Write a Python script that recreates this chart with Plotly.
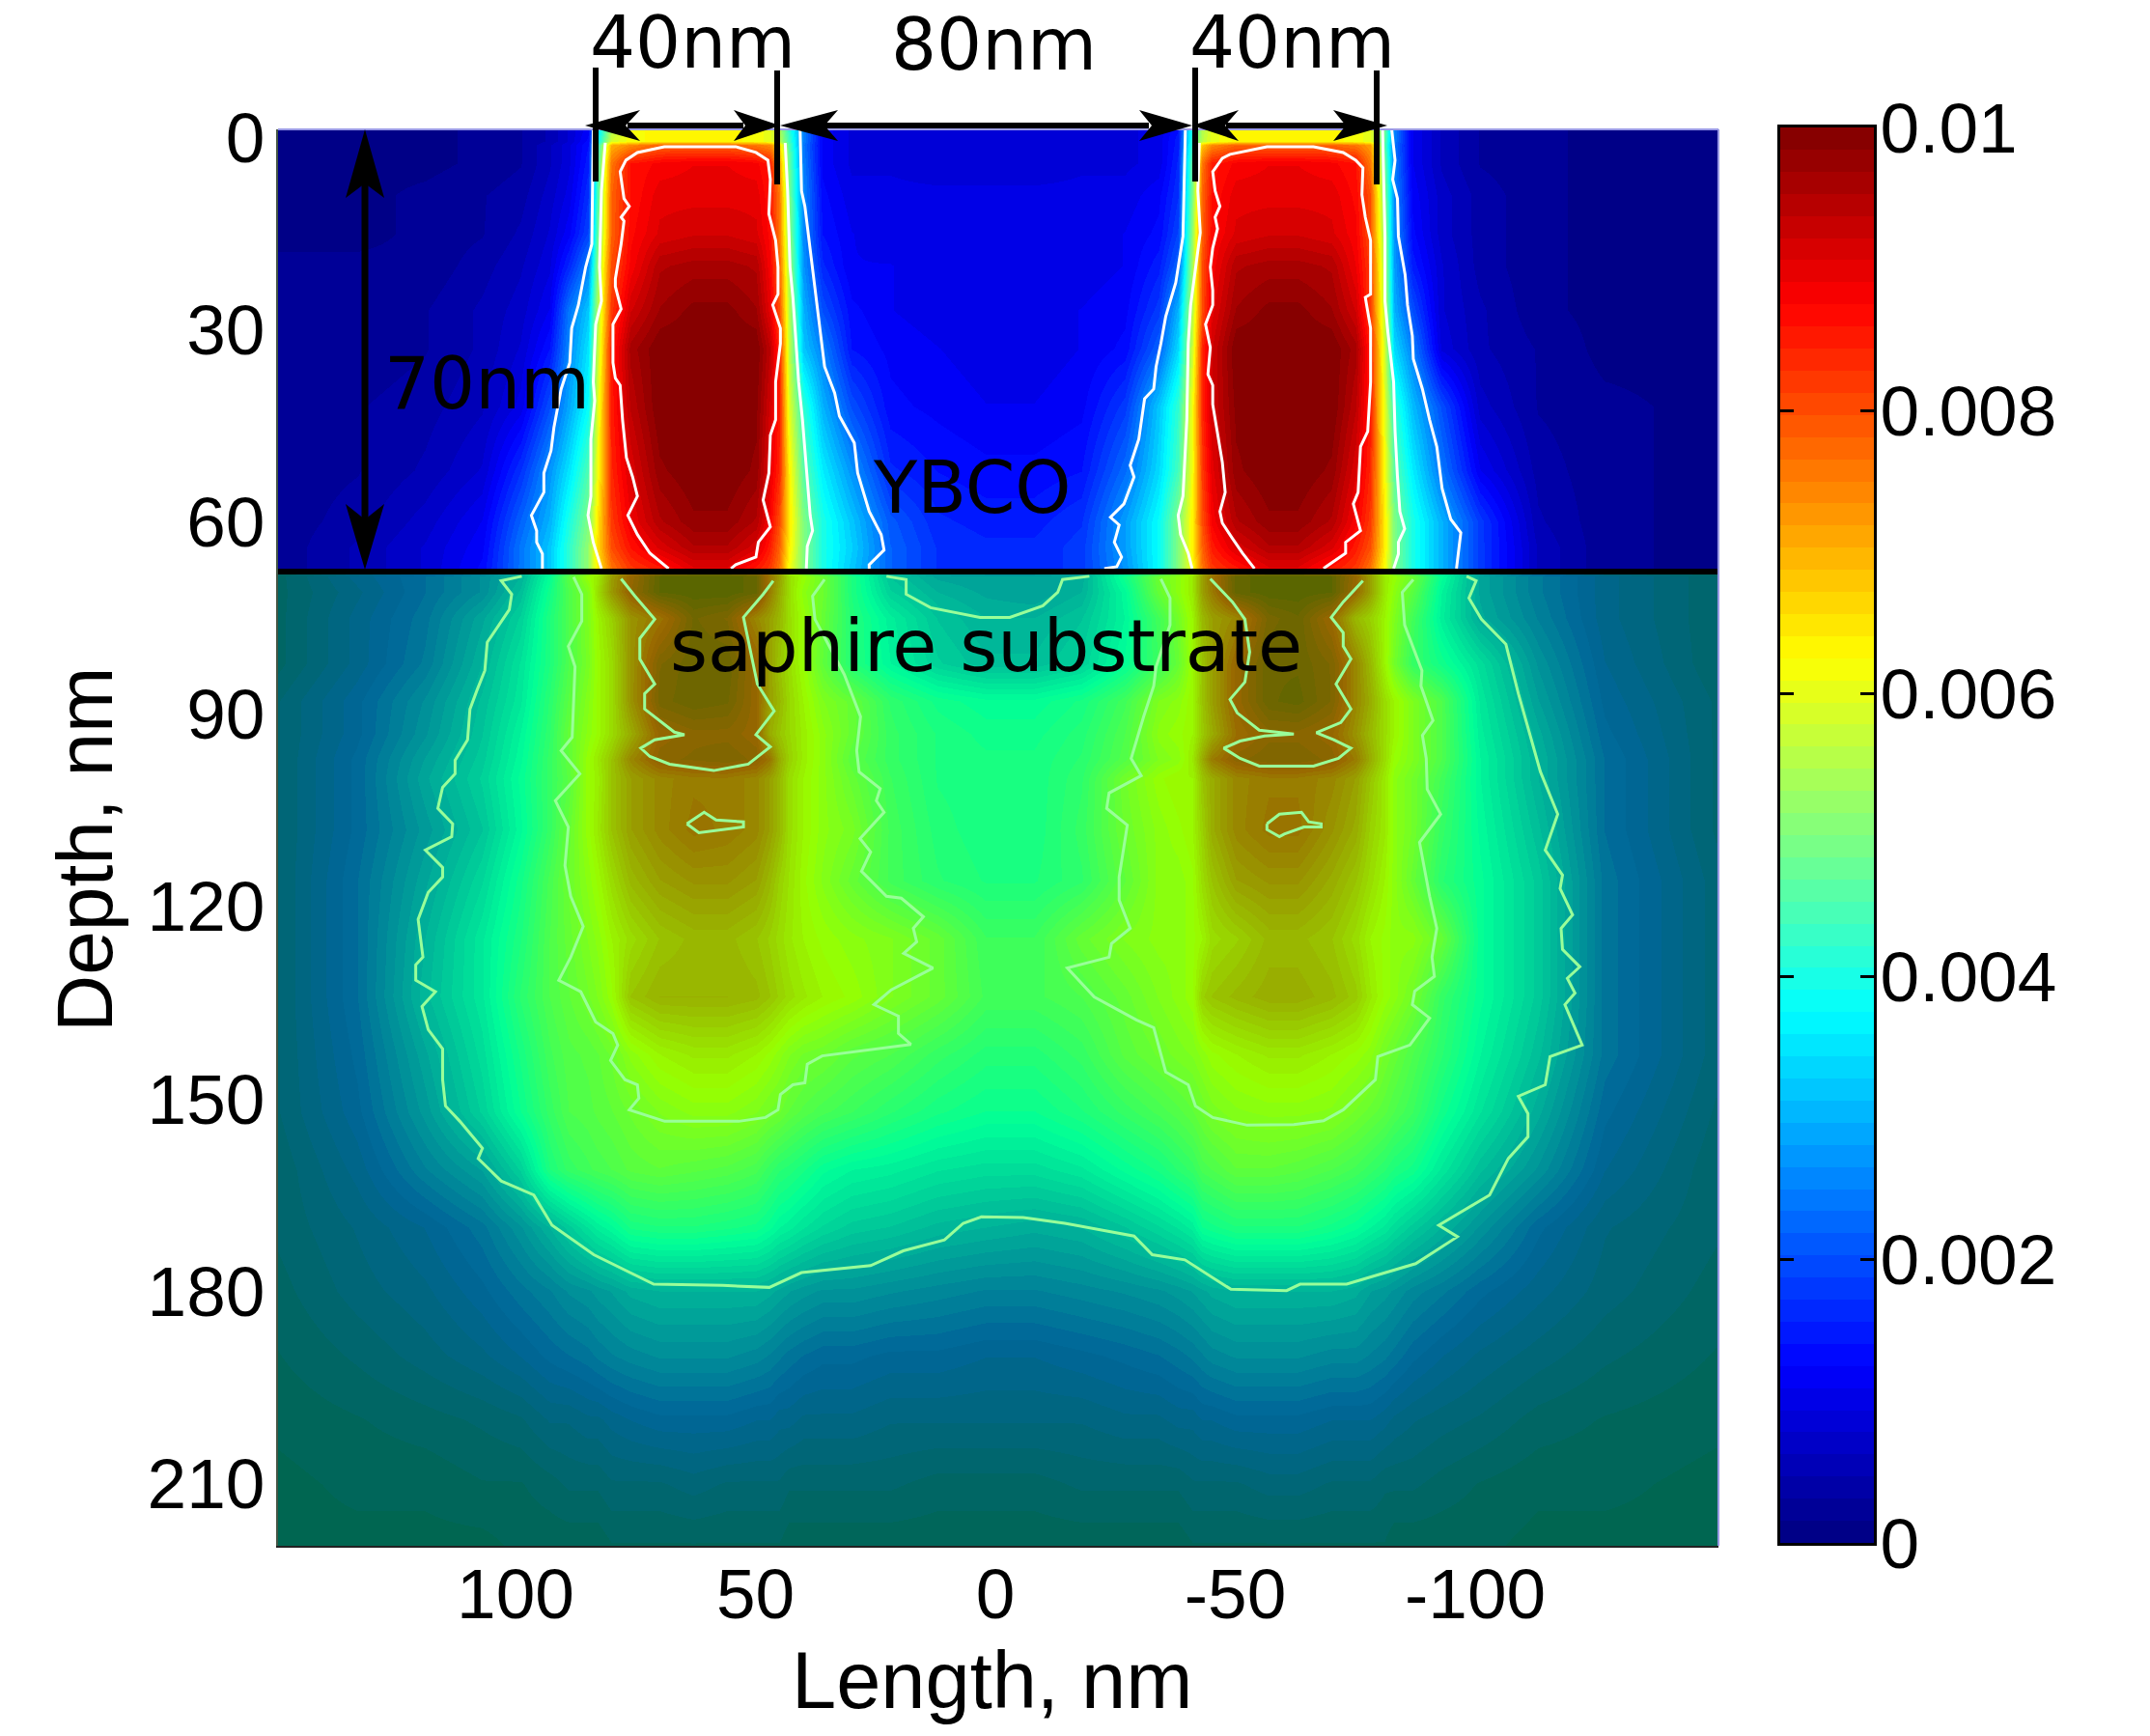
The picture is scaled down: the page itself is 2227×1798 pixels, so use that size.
import plotly.graph_objects as go

WIDTH, HEIGHT = 2227, 1798

# Cell centres of the map, in nm
LENGTH_NM = [150, 133, 119, 107, 99, 93, 89,
             85, 83, 80, 76,
             70, 63, 56, 50, 47,
             45, 43, 40, 36,
             30, 22, 12, 2, -8, -18, -27, -34,
             -38, -41, -43, -45,
             -50, -57, -63, -70, -75,
             -78, -81, -83, -87,
             -93, -101, -113, -127, -150]
DEPTH_NM = [-1, 0.6, 1.2, 4, 9, 15, 20, 27, 33, 42, 52, 60, 64, 67.5,
            68.5, 71, 75, 82, 88, 93, 97, 100, 108, 116, 125, 134, 143, 152, 161,
            170, 180, 190, 200, 210, 219.5]

# Map values in units of 1e-4, one row per depth
MAP_E4 = [
    [1,1,1,2,3,5,8, 12,35,55,62, 63,63,63,62,60, 55,42,25,12, 9,9,8,8,8,9,9,10, 14,42,55,60, 63,63,63,63,62, 60,48,25,11, 6,3,2,1,1],
    [1,1,1,2,3,5,8, 13,38,58,62, 63,63,63,62,60, 56,44,25,12, 9,9,8,8,8,9,9,10, 15,43,56,60, 63,63,63,63,62, 60,47,25,11, 6,3,2,1,1],
    [1,1,1,2,3,6,9, 14,42,70,74, 78,78,78,76,74, 66,46,24,12, 9,9,8,8,8,9,9,10, 15,44,68,74, 78,78,78,78,76, 72,46,24,11, 6,3,2,1,1],
    [1,1,1,2,3,6,9, 15,45,76,86, 88,89,89,88,85, 72,48,25,12, 9,9,8,8,8,9,9,10, 16,48,76,85, 88,89,89,88,86, 76,48,25,11, 6,3,2,1,1],
    [1,1,2,3,4,7,10, 17,46,78,86, 90,90,90,90,86, 76,50,26,13, 10,10,10,10,10,10,10,12, 17,50,78,86, 90,90,90,90,87, 80,50,26,12, 7,4,2,1,1],
    [1,1,2,3,5,8,12, 19,48,78,87, 91,92,92,91,87, 76,52,26,14, 11,10,10,10,10,10,11,13, 19,52,78,87, 91,92,92,91,88, 80,52,27,13, 7,4,2,1,1],
    [2,2,2,4,6,9,16, 25,52,80,88, 95,96,96,95,88, 78,54,27,16, 11,11,10,10,10,10,11,15, 22,54,80,88, 95,96,96,95,89, 82,54,28,15, 8,4,2,1,1],
    [2,2,3,5,7,11,24, 32,55,82,92, 97,99,99,97,90, 80,56,30,20, 13,11,10,10,10,11,12,18, 30,56,80,90, 97,99,99,97,92, 82,56,30,20, 8,5,2,1,1],
    [2,2,3,5,8,14,26, 35,57,85,96, 100,100,100,100,94, 84,57,32,25, 14,12,11,10,10,11,13,22, 34,58,84,92, 100,100,100,100,96, 85,58,34,25, 9,5,3,1,1],
    [2,3,4,6,10,20,29, 38,60,85,94, 100,100,100,99,92, 85,60,42,30, 20,13,12,11,11,12,18,32, 42,62,84,92, 99,100,100,100,94, 85,60,42,31, 20,7,3,2,1],
    [2,3,5,8,17,27,35, 45,62,84,91, 98,100,100,98,90, 84,64,46,36, 27,16,14,13,13,14,23,34, 44,62,82,90, 98,100,100,98,91, 84,62,46,36, 24,11,4,2,1],
    [2,4,7,11,22,30,40, 50,65,82,89, 95,98,98,95,88, 80,65,50,40, 32,21,16,15,15,17,28,38, 50,64,80,88, 95,98,98,95,88, 82,64,50,40, 30,18,5,2,1],
    [2,5,8,12,24,32,42, 52,66,80,86, 91,95,95,91,85, 78,64,50,40, 33,22,17,16,16,18,28,38, 50,64,78,85, 91,95,95,91,85, 80,64,50,40, 30,18,6,2,1],
    [2,5,8,13,24,32,42, 52,64,76,82, 85,90,90,85,82, 76,62,50,40, 32,22,17,16,16,18,27,38, 50,62,76,82, 85,90,90,85,82, 76,62,50,40, 30,18,6,2,1],
    [4,10,14,19,25,38,52, 62,66,78,88, 97,98,98,96,85, 78,68,62,55, 42,28,23,22,22,24,40,55, 60,66,78,85, 96,98,98,97,88, 78,66,62,55, 38,23,16,10,5],
    [4,9,14,19,27,40,50, 58,68,79,89, 97,98,98,96,84, 76,68,60,55, 42,30,25,23,22,25,37,54, 60,66,78,84, 96,98,98,97,87, 78,66,60,52, 36,23,16,10,5],
    [4,10,15,23,30,42,50, 58,64,70,80, 85,94,92,82,78, 74,68,62,54, 43,35,28,25,25,28,36,48, 56,64,74,78, 82,93,95,87,74, 70,64,58,48, 35,24,17,10,5],
    [4,10,16,25,33,42,50, 57,63,68,80, 92,95,95,88,78, 72,68,62,53, 43,36,30,27,27,30,38,47, 54,63,72,78, 88,95,95,92,82, 74,64,56,46, 40,32,20,11,5],
    [6,12,19,27,34,44,52, 59,63,68,80, 93,95,94,88,78, 74,69,64,58, 54,45,40,38,38,41,48,58, 60,64,72,78, 88,95,96,92,82, 76,68,64,58, 50,34,22,12,6],
    [6,12,20,28,36,45,54, 60,63,68,76, 88,90,90,88,76, 72,69,65,60, 54,46,42,40,40,43,50,60, 62,64,71,76, 86,90,90,88,80, 74,68,64,58, 50,35,24,13,6],
    [6,13,22,29,37,46,53, 62,66,72,82, 90,91,92,90,85, 76,70,65,60, 52,46,42,41,41,44,51,58, 60,66,76,84, 90,92,92,90,84, 76,68,62,58, 50,36,25,14,6],
    [6,13,23,30,38,46,52, 62,65,72,78, 82,84,84,82,78, 74,68,64,60, 54,47,42,41,41,45,56,62, 64,64,72,76, 82,84,84,82,78, 72,66,60,56, 48,36,25,14,6],
    [6,13,21,28,37,46,54, 62,66,72,78, 82,85,84,82,78, 74,68,64,60, 57,48,43,41,41,46,55,60, 62,64,70,76, 82,85,85,80,76, 70,66,60,56, 46,37,27,14,6],
    [6,14,23,31,40,49,55, 60,63,68,74, 78,80,80,78,74, 70,67,63,59, 54,48,44,42,42,45,53,60, 60,62,68,72, 78,80,80,76,72, 68,64,60,54, 44,38,29,15,7],
    [6,14,25,34,42,50,54, 58,60,64,68, 72,74,74,72,70, 68,66,64,62, 60,58,54,47,47,54,58,60, 60,62,64,68, 70,74,74,72,68, 64,62,60,60, 54,38,29,15,7],
    [6,14,26,34,44,50,53, 56,58,62,72, 75,75,75,74,72, 70,68,66,64, 62,58,54,48,48,50,54,58, 60,62,70,72, 74,76,76,74,71, 66,62,60,56, 46,38,29,15,7],
    [6,13,23,32,41,48,51, 52,53,55,60, 64,66,66,64,62, 60,58,56,55, 52,50,46,43,43,46,52,55, 57,58,60,62, 64,66,66,64,62, 60,56,54,50, 44,36,27,15,7],
    [6,12,21,30,39,46,50, 51,52,53,55, 58,60,60,58,56, 55,53,51,49, 47,44,41,39,39,42,46,49, 51,53,55,57, 59,60,60,59,56, 54,52,50,47, 40,33,24,13,6],
    [5,10,17,22,30,42,46, 48,49,50,52, 53,52,51,49,46, 44,43,41,38, 36,35,33,32,32,34,38,41, 44,46,49,50, 53,53,52,50,48, 46,44,42,40, 34,27,20,11,5],
    [5,8,11,15,20,25,29, 33,35,37,41, 42,42,41,40,38, 36,35,33,31, 29,28,26,25,24,25,28,31, 33,35,39,40, 42,42,42,40,38, 36,34,32,29, 25,20,13,8,5],
    [4,7,9,12,15,17,19, 20,21,22,24, 25,25,25,25,24, 23,22,21,20, 20,19,18,17,17,18,19,20, 21,22,23,24, 25,25,25,25,24, 22,21,20,18, 16,13,10,7,4],
    [3,5,7,9,11,13,14, 15,16,17,18, 19,19,19,18,17, 16,15,14,13, 13,12,12,11,11,12,13,14, 15,16,17,18, 19,19,19,18,18, 17,16,15,13, 11,9,7,5,3],
    [2,3,4,5,6,8,8, 9,9,10,11, 12,12,12,11,11, 10,10,9,9, 9,8,8,8,8,8,9,9, 10,10,11,11, 12,12,12,11,11, 11,10,9,8, 7,6,4,3,2],
    [1,2,2,3,3,4,5, 5,5,6,6, 6,7,6,6,6, 6,5,5,5, 5,5,4,4,4,5,5,5, 5,6,6,6, 6,7,7,6,6, 6,5,5,5, 4,3,2,2,1],
    [1,1,1,1,2,2,2, 2,2,3,3, 3,3,3,3,3, 3,2,2,2, 2,2,2,2,2,2,2,2, 2,3,3,3, 3,3,3,3,3, 3,3,2,2, 2,2,1,1,1],
]
assert all(len(row) == len(LENGTH_NM) for row in MAP_E4)
assert len(MAP_E4) == len(DEPTH_NM)

KEY_TICKS = [0, 0.002, 0.004, 0.006, 0.008, 0.01]
KEY_LABELS = ["0", "0.002", "0.004", "0.006", "0.008", "0.01"]
LENGTH_TICKS = [100, 50, 0, -50, -100]
DEPTH_TICKS = [0, 30, 60, 90, 120, 150, 180, 210]

# Iso-lines in the film, left strip
FILM_L_OUT1_X = [83.8, 84.1, 85.4, 86.9, 88.3, 88.7, 90.5, 92.0, 92.6, 94.1, 94.1, 96.7, 95.6, 95.6, 94.4, 94.4]
FILM_L_OUT1_Y = [-1.2, 16.7, 20.3, 26.2, 29.8, 35.2, 39.3, 45.3, 48.9, 52.4, 55.4, 59.0, 61.4, 63.2, 65.0, 67.3]
FILM_L_OUT2_X = [40.7, 40.4, 39.7, 38.6, 37.6, 36.6, 35.6, 33.5, 32.5, 29.4, 28.7, 26.3, 23.8, 23.2, 26.3, 26.3]
FILM_L_OUT2_Y = [-1.2, 8.4, 10.8, 17.3, 23.9, 29.2, 35.8, 39.9, 43.5, 47.7, 52.4, 58.4, 62.0, 64.4, 66.7, 67.3]
FILM_L_MID1_X = [81.3, 82.1, 82.5, 82.1, 83.3, 83.8, 83.5, 84.3, 84.3, 84.9, 83.8, 82.1]
FILM_L_MID1_Y = [0.9, 8.4, 20.3, 25.6, 29.2, 38.2, 41.1, 47.1, 56.0, 59.0, 63.2, 67.3]
FILM_L_MID2_X = [43.8, 43.3, 42.8, 42.2, 41.7, 41.0, 40.2, 39.2, 38.6, 38.1, 39.2, 39.4]
FILM_L_MID2_Y = [0.9, 8.4, 20.3, 25.0, 30.4, 38.2, 44.1, 53.0, 59.0, 61.4, 63.8, 67.3]
FILM_L_IN_X = [68.1, 72.0, 74.6, 76.6, 74.6, 75.6, 76.9, 77.7, 78.2, 79.2, 79.7, 79.7, 78.0, 79.2, 79.2, 78.0, 77.4, 78.0, 76.3, 77.4, 78.2, 77.0, 74.6, 69.0, 54.1, 49.9, 47.4, 46.9, 47.2, 45.8, 45.3, 45.3, 46.4, 44.8, 44.8, 45.8, 45.8, 46.9, 47.2, 48.4, 46.9, 49.4, 49.9, 54.1, 55.1]
FILM_L_IN_Y = [67.3, 64.9, 62.0, 59.0, 56.0, 53.0, 50.0, 44.1, 38.7, 37.6, 35.2, 29.2, 26.8, 23.3, 22.1, 16.7, 13.1, 12.5, 10.8, 9.6, 5.4, 3.6, 2.4, 1.5, 1.5, 2.4, 3.6, 6.6, 12.0, 16.1, 20.3, 24.5, 26.2, 29.8, 32.2, 38.2, 44.1, 46.5, 52.4, 56.6, 60.8, 63.2, 65.5, 66.7, 67.3]

# Iso-lines in the film, right strip
FILM_R_OUT1_X = [-39.6, -39.1, -37.6, -35.5, -34.5, -33.5, -33.0, -31.1, -29.9, -28.1, -28.9, -26.8, -24.0, -25.8, -24.8, -26.3, -25.3, -22.7]
FILM_R_OUT1_Y = [-1.2, 15.5, 22.7, 28.0, 32.2, 35.8, 39.3, 40.8, 47.1, 51.2, 53.0, 57.2, 59.3, 60.5, 63.2, 65.5, 67.0, 67.3]
FILM_R_MID1_X = [-42.5, -42.2, -42.7, -41.2, -40.7, -40.2, -39.9, -39.1, -38.1, -38.6, -40.2, -41.0]
FILM_R_MID1_Y = [0.9, 8.4, 14.9, 23.3, 26.2, 32.2, 44.1, 56.0, 59.0, 62.0, 64.9, 67.3]
FILM_R_MID2_X = [-80.7, -81.2, -81.2, -81.8, -83.0, -83.3, -83.8, -84.3, -85.3, -84.0, -84.0, -83.0]
FILM_R_MID2_Y = [-1.2, 15.5, 25.6, 30.4, 38.2, 45.9, 53.0, 58.4, 61.1, 63.2, 65.0, 67.3]
FILM_R_OUT2_X = [-82.6, -83.3, -82.8, -83.8, -84.0, -85.4, -85.9, -86.9, -87.1, -89.0, -90.5, -92.0, -93.1, -94.9, -97.0, -96.6, -96.1]
FILM_R_OUT2_Y = [-1.2, 3.6, 6.6, 9.6, 15.5, 21.5, 26.2, 31.0, 34.6, 39.3, 44.1, 48.3, 54.8, 59.6, 61.7, 64.4, 67.3]
FILM_R_IN_X = [-54.0, -51.5, -49.4, -47.3, -46.8, -47.9, -47.3, -46.3, -45.3, -45.3, -44.3, -44.8, -43.8, -45.3, -45.3, -44.8, -45.3, -46.3, -45.8, -46.8, -45.8, -45.3, -47.3, -48.9, -56.6, -66.3, -72.5, -75.1, -76.6, -76.4, -77.1, -78.2, -78.2, -77.1, -78.2, -78.2, -77.6, -76.1, -75.6, -74.6, -76.1, -73.0, -73.0, -68.9, -68.4]
FILM_R_IN_Y = [67.3, 64.9, 62.6, 60.2, 58.4, 55.4, 50.7, 45.9, 41.7, 38.7, 37.0, 32.8, 29.2, 26.2, 23.9, 20.3, 17.3, 14.3, 12.5, 10.8, 8.4, 5.4, 3.3, 2.7, 1.5, 1.5, 2.4, 3.6, 4.8, 9.0, 12.5, 16.1, 24.5, 25.0, 29.8, 38.2, 45.9, 48.3, 55.4, 57.2, 61.4, 63.2, 64.9, 67.0, 67.3]

# Iso-lines in the substrate
SUB_L_IN_X = [78.0, 75.1, 71.0, 74.1, 74.1, 71.0, 73.1, 73.1, 66.9, 64.8, 71.0, 73.9, 72.0, 67.9, 58.7, 51.5, 46.9, 49.9, 46.1, 48.4, 49.6, 51.0, 52.5, 48.4, 46.3]
SUB_L_IN_Y = [68.9, 71.6, 75.2, 78.2, 81.4, 85.3, 86.8, 89.2, 92.8, 93.2, 94.0, 95.3, 96.6, 97.8, 98.8, 97.8, 95.1, 93.2, 89.5, 86.8, 85.3, 80.3, 74.9, 71.3, 69.2]
SUB_L_DOT_X = [64.3, 60.7, 58.2, 52.5, 52.5, 58.2, 61.8, 64.3]
SUB_L_DOT_Y = [107.1, 105.3, 106.5, 106.8, 107.6, 108.2, 108.5, 107.1]
SUB_R_IN_X = [-44.8, -49.4, -52.0, -53.0, -52.0, -48.9, -50.4, -55.0, -58.6, -62.2, -56.1, -51.0, -47.6, -51.0, -55.0, -66.3, -71.5, -74.1, -70.5, -66.9, -72.0, -74.1, -71.0, -74.1, -72.5, -72.5, -70.0, -72.5, -76.6]
SUB_R_IN_Y = [68.9, 72.5, 75.2, 80.3, 85.0, 87.7, 89.8, 92.5, 92.8, 93.1, 93.4, 94.2, 95.3, 96.9, 98.1, 98.1, 96.9, 95.3, 94.0, 92.9, 91.3, 89.2, 85.3, 81.4, 79.4, 77.3, 74.9, 72.5, 69.2]
SUB_R_DOT_X = [-56.6, -59.2, -63.8, -65.3, -67.9, -67.9, -64.3, -60.2, -59.2, -56.6, -56.6]
SUB_R_DOT_Y = [107.1, 105.6, 105.3, 106.8, 107.1, 107.6, 107.6, 108.7, 109.1, 108.0, 107.1]
SUB_L_MID_X = [87.9, 86.2, 86.2, 89.0, 87.6, 87.9, 88.2, 90.5, 86.6, 91.7, 89.0, 89.7, 88.5, 85.9, 88.5, 91.0, 86.4, 83.3, 79.7, 78.7, 80.2, 77.2, 74.6, 74.3, 76.3, 68.9, 53.5, 47.9, 45.3, 44.8, 42.2, 39.7, 39.2, 36.1, 27.9, 17.6, 20.2, 20.2, 25.3, 21.7, 13.0, 19.1, 16.4, 17.1, 15.0, 19.6, 22.7, 27.9, 26.0, 28.2, 23.2, 24.8, 24.0, 28.4, 28.9, 28.1, 31.5, 37.6, 38.1, 35.6]
SUB_L_MID_Y = [68.6, 71.3, 75.5, 79.4, 82.6, 88.6, 93.6, 95.7, 99.3, 103.5, 107.6, 113.6, 118.4, 123.1, 127.9, 131.5, 133.3, 138.0, 139.8, 141.6, 144.0, 147.0, 147.8, 149.9, 151.7, 153.5, 153.5, 152.9, 151.7, 149.3, 147.8, 147.5, 144.6, 143.3, 142.5, 141.5, 139.8, 137.1, 135.3, 133.0, 129.6, 127.3, 125.5, 123.4, 121.6, 118.7, 118.4, 114.5, 111.5, 109.4, 105.3, 103.5, 101.6, 99.0, 95.7, 90.4, 83.8, 75.2, 71.6, 69.0]
SUB_R_MID_X = [-34.5, -36.4, -36.4, -33.5, -33.0, -30.9, -28.3, -30.4, -23.7, -23.2, -27.5, -25.8, -25.8, -28.1, -24.2, -23.7, -15.0, -20.6, -29.4, -33.0, -35.5, -40.2, -41.7, -45.3, -52.5, -62.2, -68.4, -72.5, -79.2, -79.7, -86.4, -90.5, -86.9, -87.4, -91.5, -91.0, -92.0, -90.5, -88.4, -92.8, -90.0, -89.8, -89.0, -91.2, -88.7, -88.9, -85.3, -84.8, -87.1]
SUB_R_MID_Y = [68.9, 71.9, 76.1, 82.6, 85.6, 90.4, 96.9, 99.6, 102.3, 104.7, 107.3, 115.4, 119.0, 123.4, 125.8, 127.9, 129.6, 134.1, 137.7, 138.9, 145.8, 147.8, 151.1, 152.9, 154.1, 154.0, 153.4, 151.7, 147.0, 143.4, 141.6, 137.4, 135.3, 133.2, 130.9, 127.9, 123.4, 118.4, 110.0, 105.6, 101.7, 96.9, 93.3, 91.0, 85.6, 83.2, 76.1, 71.0, 69.0]
SUB_OUT_X = [98.7, 103.0, 100.8, 101.3, 105.9, 106.4, 108.0, 109.5, 110.0, 112.6, 112.6, 115.2, 116.2, 113.1, 113.3, 118.8, 115.2, 115.2, 118.2, 120.3, 119.3, 120.8, 120.8, 116.7, 119.5, 118.2, 115.2, 115.2, 114.6, 111.6, 106.9, 107.8, 103.0, 96.2, 92.4, 83.7, 71.2, 56.8, 47.1, 40.4, 26.0, 19.2, 10.6, 6.7, 2.9, -5.8, -14.5, -28.9, -32.7, -39.5, -49.1, -60.7, -63.5, -73.2, -87.6, -96.3, -92.4, -103.0, -106.9, -111.0, -111.0, -109.0, -114.6, -115.6, -122.3, -118.7, -120.8, -119.2, -121.8, -118.2, -117.9, -120.3, -117.7, -118.2, -114.6, -117.2, -113.6, -111.0, -109.0, -106.4, -101.3, -98.7, -100.2, -98.2]
SUB_OUT_Y = [68.5, 69.2, 71.3, 73.7, 78.8, 83.2, 86.2, 89.2, 94.0, 97.2, 99.3, 101.4, 104.7, 107.1, 109.1, 111.2, 113.9, 115.4, 117.8, 122.0, 127.9, 129.1, 131.5, 133.3, 135.6, 139.2, 142.2, 147.0, 151.1, 153.5, 157.7, 159.3, 162.8, 165.0, 169.7, 174.3, 178.9, 179.1, 179.4, 177.1, 176.0, 173.7, 172.0, 169.4, 168.4, 168.5, 169.4, 171.4, 174.3, 175.1, 179.7, 179.9, 178.9, 178.9, 175.7, 171.5, 169.7, 165.0, 159.3, 155.9, 152.3, 149.6, 147.8, 143.4, 141.6, 135.3, 133.5, 131.2, 129.4, 126.7, 123.4, 121.3, 117.2, 115.1, 111.2, 105.6, 99.0, 92.2, 86.8, 79.1, 75.2, 71.9, 69.2, 68.5]
SUB_CAP_X = [22.7, 18.6, 18.6, 13.5, 3.2, -3.0, -9.9, -13.0, -14.0, -19.6]
SUB_CAP_Y = [68.5, 69.0, 71.3, 73.4, 74.9, 74.9, 73.1, 71.0, 69.0, 68.5]

ISO_LINES = [
    (FILM_L_OUT1_X, FILM_L_OUT1_Y), (FILM_L_OUT2_X, FILM_L_OUT2_Y),
    (FILM_L_MID1_X, FILM_L_MID1_Y), (FILM_L_MID2_X, FILM_L_MID2_Y),
    (FILM_L_IN_X, FILM_L_IN_Y),
    (FILM_R_OUT1_X, FILM_R_OUT1_Y), (FILM_R_OUT2_X, FILM_R_OUT2_Y),
    (FILM_R_MID1_X, FILM_R_MID1_Y), (FILM_R_MID2_X, FILM_R_MID2_Y),
    (FILM_R_IN_X, FILM_R_IN_Y),
    (SUB_L_IN_X, SUB_L_IN_Y), (SUB_L_DOT_X, SUB_L_DOT_Y),
    (SUB_R_IN_X, SUB_R_IN_Y), (SUB_R_DOT_X, SUB_R_DOT_Y),
    (SUB_L_MID_X, SUB_L_MID_Y), (SUB_R_MID_X, SUB_R_MID_Y),
    (SUB_OUT_X, SUB_OUT_Y), (SUB_CAP_X, SUB_CAP_Y),
]

# Plot area and colour key placement, in page pixels
PLOT_L, PLOT_R, PLOT_T, PLOT_B = 288, 1780, 134, 1601
INTERFACE_Y = 592
KEY_L, KEY_R, KEY_T, KEY_B = 1844, 1941, 132, 1598
LEVELS = 64


def px(x):
    return x / WIDTH


def py(y):
    return 1 - y / HEIGHT


def jet_steps(n=LEVELS):
    """Stepped MATLAB-style jet colour scale."""
    def clip(v):
        return max(0.0, min(1.0, v))
    scale = []
    for i in range(n):
        t = (i + 0.5) / n
        r = clip(min(4 * t - 1.5, -4 * t + 4.5))
        g = clip(min(4 * t - 0.5, -4 * t + 3.5))
        b = clip(min(4 * t + 0.5, -4 * t + 2.5))
        colour = f"rgb({round(r * 255)},{round(g * 255)},{round(b * 255)})"
        scale.append([i / n, colour])
        scale.append([(i + 1) / n, colour])
    return scale


def bar(x0, y0, x1, y1, width=6):
    return dict(type="line", xref="paper", yref="paper", layer="above",
                x0=px(x0), y0=py(y0), x1=px(x1), y1=py(y1),
                line=dict(color="black", width=width))


def head_h(tip, back, notch, y, half=16):
    d = (f"M{px(tip)},{py(y)} L{px(back)},{py(y - half)} "
         f"L{px(notch)},{py(y)} L{px(back)},{py(y + half)} Z")
    return dict(type="path", xref="paper", yref="paper", layer="above", path=d,
                fillcolor="black", line=dict(width=0))


def head_v(tip, back, notch, x, half=20):
    d = (f"M{px(x)},{py(tip)} L{px(x - half)},{py(back)} "
         f"L{px(x)},{py(notch)} L{px(x + half)},{py(back)} Z")
    return dict(type="path", xref="paper", yref="paper", layer="above", path=d,
                fillcolor="black", line=dict(width=0))


JET = jet_steps()

fig = go.Figure()
fig.add_trace(go.Heatmap(
    x=LENGTH_NM, y=DEPTH_NM,
    z=[[v * 1e-4 for v in row] for row in MAP_E4],
    zmin=0, zmax=0.01, zsmooth="best", colorscale=JET, showscale=False, hoverinfo="skip",
))
for xs, ys in ISO_LINES:
    fig.add_trace(go.Scatter(x=xs, y=ys, mode="lines", showlegend=False, hoverinfo="skip",
                             line=dict(color="white", width=3)))

# Colour key: one stripe per colour level on its own axes
key_levels = [(i + 0.5) * 0.01 / LEVELS for i in range(LEVELS)]
fig.add_trace(go.Heatmap(
    x=[0, 1], y=key_levels, z=[[v, v] for v in key_levels],
    zmin=0, zmax=0.01, colorscale=JET, showscale=False, hoverinfo="skip",
    xaxis="x2", yaxis="y2",
))

shapes = [
    # Translucent green veil over the substrate
    dict(type="rect", xref="paper", yref="paper", layer="above",
         x0=px(PLOT_L), x1=px(PLOT_R), y0=py(INTERFACE_Y), y1=py(PLOT_B),
         fillcolor="rgba(0,255,0,0.4)", line=dict(width=0)),
    # Film/substrate boundary
    bar(PLOT_L, INTERFACE_Y, PLOT_R, INTERFACE_Y),
    # Frame edges along the top and right of the map
    dict(type="line", xref="paper", yref="paper", layer="above",
         x0=px(PLOT_L), x1=px(PLOT_R), y0=py(PLOT_T), y1=py(PLOT_T),
         line=dict(color="#9a9ae6", width=2)),
    dict(type="line", xref="paper", yref="paper", layer="above",
         x0=px(PLOT_R), x1=px(PLOT_R), y0=py(PLOT_T), y1=py(PLOT_B),
         line=dict(color="#9a9ae6", width=2)),
    # Dimension bars and arrows over the strips
    bar(617, 70, 617, 188), bar(805, 73, 805, 191),
    bar(1238, 70, 1238, 188), bar(1426, 73, 1426, 191),
    bar(650, 130, 770, 130), bar(850, 130, 1190, 130), bar(1270, 130, 1395, 130),
    head_h(606, 663, 648, 130), head_h(808, 760, 772, 130),
    head_h(808, 868, 854, 130), head_h(1235, 1180, 1193, 130),
    head_h(1235, 1283, 1269, 130), head_h(1437, 1381, 1394, 130),
    # Film thickness arrow
    bar(378, 185, 378, 545, width=7),
    head_v(134, 205, 190, 378), head_v(590, 522, 538, 378),
]

labels = [
    ("40nm", 717, 44, 74), ("80nm", 1029, 46, 74), ("40nm", 1338, 44, 74),
    ("70nm", 504, 397, 74), ("YBCO", 1007, 505, 74), ("saphire substrate", 1021, 669, 75),
]
annotations = [
    dict(text=t, x=px(x), y=py(y), xref="paper", yref="paper", showarrow=False,
         xanchor="center", yanchor="middle",
         font=dict(family="DejaVu Sans", size=s, color="black"))
    for t, x, y, s in labels
]
# Axis titles
annotations += [
    dict(text="Length, nm", x=px(1027), y=py(1740), xref="paper", yref="paper",
         showarrow=False, xanchor="center", yanchor="middle",
         font=dict(family="Liberation Sans", size=83, color="black")),
    dict(text="Depth, nm", x=px(88), y=py(880), xref="paper", yref="paper",
         showarrow=False, xanchor="center", yanchor="middle", textangle=-90,
         font=dict(family="Liberation Sans", size=82, color="black")),
]

TICK_FONT = dict(family="Liberation Sans", size=73, color="black")

fig.update_layout(
    width=WIDTH, height=HEIGHT, autosize=False,
    paper_bgcolor="white", plot_bgcolor="white",
    margin=dict(l=0, r=0, t=0, b=0, pad=0, autoexpand=False),
    showlegend=False,
    shapes=shapes, annotations=annotations,
    xaxis=dict(
        domain=[px(PLOT_L), px(PLOT_R)], range=[149.5, -150.7], anchor="y",
        tickmode="array", tickvals=LENGTH_TICKS, ticktext=[str(v) for v in LENGTH_TICKS],
        ticks="", ticklabelstandoff=-15, tickfont=TICK_FONT,
        showgrid=False, zeroline=False, showline=True, linecolor="#222222", linewidth=2,
    ),
    yaxis=dict(
        domain=[py(PLOT_B), py(PLOT_T)], range=[219.7, -1.2], anchor="x",
        tickmode="array", tickvals=DEPTH_TICKS, ticktext=[str(v) for v in DEPTH_TICKS],
        ticks="", ticklabelstandoff=-3, tickfont=TICK_FONT,
        showgrid=False, zeroline=False, showline=True, linecolor="#445544", linewidth=2,
    ),
    xaxis2=dict(
        domain=[px(KEY_L), px(KEY_R)], range=[0, 1], anchor="y2",
        showticklabels=False, ticks="", showgrid=False, zeroline=False,
        showline=True, mirror=True, linecolor="black", linewidth=3,
    ),
    yaxis2=dict(
        domain=[py(KEY_B), py(KEY_T)], range=[0, 0.01], anchor="x2", side="right",
        tickmode="array", tickvals=KEY_TICKS, ticktext=KEY_LABELS,
        ticks="inside", ticklen=14, tickwidth=3, tickcolor="black",
        ticklabelstandoff=-11, tickfont=TICK_FONT,
        showgrid=False, zeroline=False,
        showline=True, mirror="ticks", linecolor="black", linewidth=3,
    ),
)

fig.write_html("out.html")
